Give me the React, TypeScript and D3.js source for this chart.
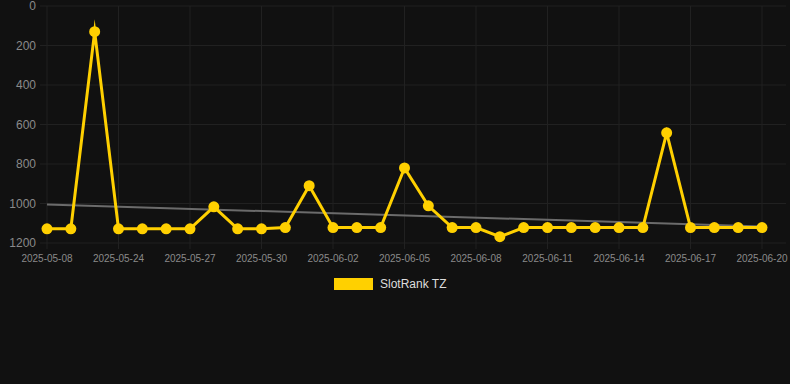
import React from "react";
import * as d3 from "d3";

const categories = [
  "2025-05-08","c1","c2","2025-05-24","c4","c5","2025-05-27","c7","c8","2025-05-30",
  "c10","c11","2025-06-02","c13","c14","2025-06-05","c16","c17","2025-06-08","c19",
  "c20","2025-06-11","c22","c23","2025-06-14","c25","c26","2025-06-17","c28","c29","2025-06-20",
];
const tickLabels = ["2025-05-08","2025-05-24","2025-05-27","2025-05-30","2025-06-02","2025-06-05","2025-06-08","2025-06-11","2025-06-14","2025-06-17","2025-06-20"];
const values = [
  1128, 1128, 130, 1128, 1128, 1128, 1128, 1017, 1128, 1128,
  1122, 910, 1122, 1122, 1122, 820, 1012, 1122, 1122, 1168,
  1122, 1122, 1122, 1122, 1122, 1122, 642, 1122, 1122, 1122, 1122,
];
const trendStart = 1005;
const trendEnd = 1116;
const yTicks = [0, 200, 400, 600, 800, 1000, 1200];
const seriesName = "SlotRank TZ";

export default function App() {
  const W = 790, H = 384;
  const left = 40, right = 786, top = 6, bottom = 243;
  const x = d3.scalePoint<string>().domain(categories).range([47, 762]);
  const y = d3.scaleLinear().domain([0, 1200]).range([top, bottom]);
  const line = d3.line<number>().x((_, i) => x(categories[i])!).y((d) => y(d));
  const yellow = "#FFD000";
  return (
    <div style={{ position: "fixed", left: 0, top: 0, width: W, height: H }}>
      <svg width={W} height={H} style={{ display: "block", fontFamily: "Liberation Sans, Arial, sans-serif" }}>
        <rect width={W} height={H} fill="#111111" />
        {yTicks.map((t) => (
          <g key={t}>
            <line x1={left} x2={right} y1={y(t)} y2={y(t)} stroke="#212121" strokeWidth={1} />
            <text x={36} y={y(t)} dy="0.35em" textAnchor="end" fontSize={12} fill="#8a8a8a">{t}</text>
          </g>
        ))}
        {tickLabels.map((c) => (
          <g key={c}>
            <line x1={x(c)!} x2={x(c)!} y1={top} y2={bottom + 6} stroke="#212121" strokeWidth={1} />
            <text x={x(c)!} y={262} textAnchor="middle" fontSize={10} fill="#8a8a8a">{c}</text>
          </g>
        ))}
        <line
          x1={x(categories[0])!}
          x2={x(categories[categories.length - 1])!}
          y1={y(trendStart)}
          y2={y(trendEnd)}
          stroke="#6b6b6b"
          strokeWidth={2}
        />
        <path d={line(values) || ""} fill="none" stroke={yellow} strokeWidth={3} strokeLinejoin="miter" strokeMiterlimit={10} />
        {values.map((v, i) => (
          <circle key={i} cx={x(categories[i])!} cy={y(v)} r={5.5} fill={yellow} />
        ))}
        <rect x={334} y={278} width={39} height={12} fill={yellow} />
        <text x={380} y={284} dy="0.35em" fontSize={12} fill="#dddddd">{seriesName}</text>
      </svg>
    </div>
  );
}
